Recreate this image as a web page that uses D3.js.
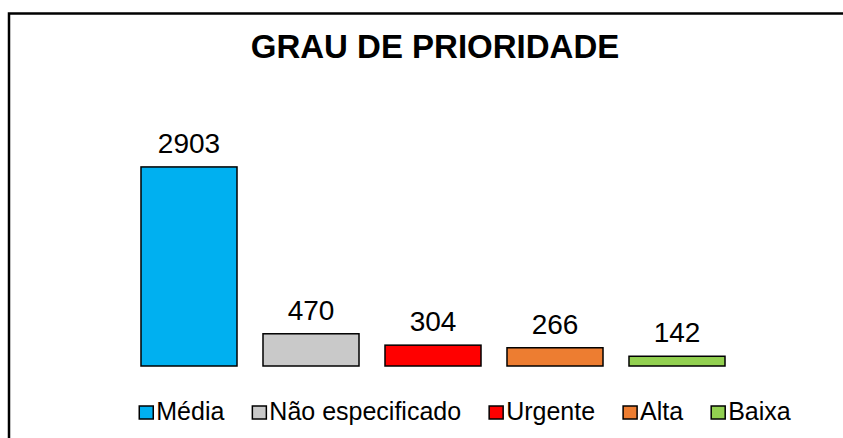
<!DOCTYPE html>
<html>
<head>
<meta charset="utf-8">
<script src="https://cdn.jsdelivr.net/npm/d3@7"></script>
<style>
  html, body { margin: 0; padding: 0; background: #fff; }
  svg { display: block; font-family: Arial, "Liberation Sans", sans-serif; }
</style>
</head>
<body>
<div id="chart"></div>
<script>
// data
const categories = ['Média', 'Não especificado', 'Urgente', 'Alta', 'Baixa'];
const values = [2903, 470, 304, 266, 142];
const colors = ['#00B0F0', '#C9C9C9', '#FF0000', '#ED7D31', '#92D050'];
const title = 'GRAU DE PRIORIDADE';

const width = 843;
const height = 438;

const svg = d3.select('#chart')
    .append('svg')
    .attr('width', width)
    .attr('height', height);

// chart frame (cut off on the right and bottom)
svg.append('rect')
    .attr('x', 9)
    .attr('y', 13.5)
    .attr('width', 900)
    .attr('height', 500)
    .attr('fill', '#fff')
    .attr('stroke', '#000')
    .attr('stroke-width', 2.5);

svg.append('text')
    .attr('x', 435)
    .attr('y', 58)
    .attr('text-anchor', 'middle')
    .attr('font-size', 33)
    .attr('font-weight', 'bold')
    .text(title);

const x = d3.scaleBand()
    .domain(categories)
    .range([128, 738])
    .paddingInner(0.213)
    .paddingOuter(0.1065);

const y = d3.scaleLinear()
    .domain([0, 3500])
    .range([366, 126]);

const bars = svg.append('g')
    .selectAll('g')
    .data(categories.map((c, i) => ({ cat: c, value: values[i], color: colors[i] })))
    .enter()
    .append('g');

bars.append('rect')
    .attr('x', d => x(d.cat))
    .attr('y', d => y(d.value))
    .attr('width', x.bandwidth())
    .attr('height', d => y(0) - y(d.value))
    .attr('fill', d => d.color)
    .attr('stroke', '#000')
    .attr('stroke-width', 1.5);

bars.append('text')
    .attr('x', d => x(d.cat) + x.bandwidth() / 2)
    .attr('y', d => y(d.value) - 14)
    .attr('text-anchor', 'middle')
    .attr('font-size', 28)
    .attr('fill', '#000')
    .text(d => d.value);

// legend
const legend = svg.append('g');
const legendFont = 25;
const box = 14;
const gap = 28;
let cursor = 0;
categories.forEach((c, i) => {
    const g = legend.append('g');
    g.append('rect')
        .attr('x', 0)
        .attr('y', -box)
        .attr('width', box)
        .attr('height', box - 1)
        .attr('fill', colors[i])
        .attr('stroke', '#000')
        .attr('stroke-width', 1.5);
    const t = g.append('text')
        .attr('x', box + 3)
        .attr('y', 0)
        .attr('font-size', legendFont)
        .text(c);
    const w = box + 3 + t.node().getComputedTextLength();
    g.attr('transform', `translate(${cursor},0)`);
    cursor += w + gap;
});
const total = cursor - gap;
legend.attr('transform', `translate(${465 - total / 2},420)`);
</script>
</body>
</html>
